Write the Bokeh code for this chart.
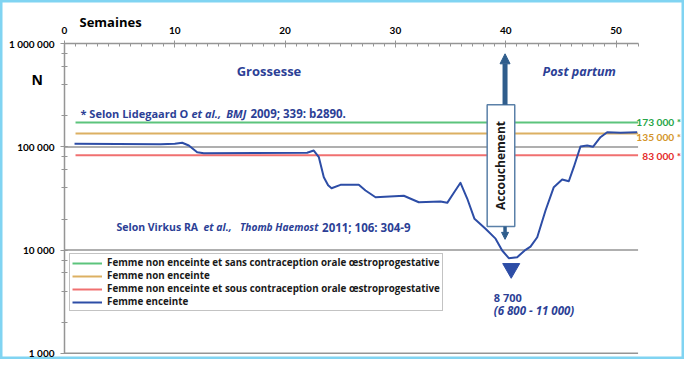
import math
from bokeh.plotting import figure
from bokeh.models import (Range1d, SingleIntervalTicker, LogTicker, Label, Legend, LegendItem,
                          Arrow, NormalHead)
from bokeh.embed import file_html
from bokeh.resources import INLINE

# ---------------- data ----------------
WEEKS = [0.91, 8.7, 10.0, 10.67, 11.27, 12.03, 12.63, 22.0, 22.6, 23.06, 23.51, 23.9, 24.21, 25.02,
         26.68, 27.29, 28.2, 30.76, 32.12, 34.09, 34.7, 35.3, 35.9, 36.51, 37.17, 38.17, 39.08,
         39.68, 40.28, 41.04, 41.8, 42.25, 42.86, 43.61, 44.36, 45.12, 45.72, 46.17, 46.78,
         47.39, 47.93, 48.59, 49.2, 50.41, 51.92]
PREGNANT = [107200, 106300, 107500, 109700, 103200, 88900, 86900, 87700, 92300, 79500, 50900,
            42500, 39800, 42900, 42900, 37800, 32500, 33600, 29100, 29600, 28700, 36000, 44900,
            31600, 20100, 16100, 12900, 9900, 8340, 8530, 10060, 10800, 13300, 24200, 40700,
            48300, 46500, 63600, 101000, 103300, 100600, 124300, 139000, 137100, 139000]

REF_NAMES = ["Femme non enceinte et sans contraception orale \u0153stroprogestative",
             "Femme non enceinte",
             "Femme non enceinte et sous contraception orale \u0153stroprogestative"]
REF_VALUES = [173000, 135000, 83000]
REF_LABELS = ["173 000 *", "135 000 *", "83 000 *"]
REF_START, REF_END = 1.0, 52.0
PREG_NAME = "Femme enceinte"

X_MIN, X_MAX = 0, 52
X_TICK_STEP = 10
Y_TICKS = [1000, 10000, 100000, 1000000]
Y_TICK_LABELS = ["1 000", "10 000", "100 000", "1 000 000"]

DELIVERY_WEEK = 40
NADIR_WEEK = 40.5
NADIR_TEXT = "8 700"
NADIR_RANGE = "(6 800 - 11 000)"

# ---------------- style ----------------
FONT = "Open Sans"
TICK_FONT = "Lato"
BLUE_TXT = "#2c3f96"
CURVE = "#2d4da6"
REF_COLORS = ["#5cc47c", "#dcb062", "#f07070"]
REF_TXT_COLORS = ["#26a548", "#d4952a", "#e52a2a"]
GRAY = "#959595"
ARROW = "#2f5d8c"

# the frame covers the whole canvas; axes are pinned inside it with fixed_location
p = figure(width=684, height=359, y_axis_type="log", x_axis_location="above",
           x_range=Range1d(-5.802, 56.21), y_range=Range1d(10 ** 2.9388, 10 ** 6.4199),
           output_backend="svg", toolbar_location=None,
           min_border_left=0, min_border_top=0, min_border_right=0, min_border_bottom=0)
p.outline_line_color = "#80d4f2"
p.outline_line_width = 4
p.background_fill_color = "white"
p.border_fill_color = "white"

# axes
xa = p.xaxis[0]
xa.fixed_location = Y_TICKS[-1]
xa.bounds = (X_MIN, X_MAX)
xa.ticker = SingleIntervalTicker(interval=X_TICK_STEP, num_minor_ticks=10)
xa.axis_line_color = GRAY
xa.axis_line_width = 1.5
xa.major_tick_line_color = GRAY
xa.minor_tick_line_color = GRAY
xa.major_tick_in = 4
xa.major_tick_out = 3
xa.minor_tick_in = 3
xa.minor_tick_out = 0
xa.major_label_text_font = TICK_FONT
xa.major_label_text_font_style = "bold"
xa.major_label_text_font_size = "10px"
xa.major_label_text_color = "black"
xa.major_label_standoff = 7

ya = p.yaxis[0]
ya.fixed_location = X_MIN
ya.bounds = (Y_TICKS[0], Y_TICKS[-1])
ya.ticker = LogTicker(desired_num_ticks=4)
ya.major_label_overrides = {t: l for t, l in zip(Y_TICKS, Y_TICK_LABELS)}
ya.axis_line_color = GRAY
ya.axis_line_width = 1.5
ya.major_tick_line_color = GRAY
ya.minor_tick_line_color = GRAY
ya.major_tick_in = 3
ya.major_tick_out = 4
ya.minor_tick_in = 3
ya.minor_tick_out = 3
ya.major_label_text_font = TICK_FONT
ya.major_label_text_font_style = "bold"
ya.major_label_text_font_size = "10px"
ya.major_label_text_color = "black"
ya.major_label_standoff = 6

p.xgrid.visible = False
p.ygrid.visible = False

# horizontal gray lines at the decade ticks (below the top axis)
for t in Y_TICKS[:-1]:
    p.line([X_MIN, X_MAX], [t, t], line_color=GRAY, line_width=1.5)

# reference lines
ref_renderers = []
for v, c in zip(REF_VALUES, REF_COLORS):
    r = p.line([REF_START, REF_END], [v, v], line_color=c, line_width=2)
    ref_renderers.append(r)

# pregnant curve
curve = p.line(WEEKS, PREGNANT, line_color=CURVE, line_width=2, line_join="round")

# delivery box + arrows
box_bottom, box_top = 16900, 256000
p.quad(left=[DELIVERY_WEEK - 1.68], right=[DELIVERY_WEEK + 0.82], bottom=[box_bottom], top=[box_top],
       fill_color="white", line_color="#5a80a8", line_width=1.5)
p.add_layout(Arrow(x_start=DELIVERY_WEEK - 0.06, y_start=box_top, x_end=DELIVERY_WEEK - 0.06, y_end=800000,
                   line_color=ARROW, line_width=5,
                   end=NormalHead(size=10, fill_color=ARROW, line_color=ARROW)))
p.add_layout(Arrow(x_start=DELIVERY_WEEK - 0.06, y_start=box_bottom, x_end=DELIVERY_WEEK - 0.06, y_end=12700,
                   line_color=ARROW, line_width=3.5,
                   end=NormalHead(size=7, fill_color=ARROW, line_color=ARROW)))
p.add_layout(Label(x=DELIVERY_WEEK - 0.43, y=66000, text="Accouchement", angle=math.pi / 2,
                   text_align="center", text_baseline="middle", text_font=FONT,
                   text_font_style="bold", text_font_size="12px", text_color="#1a1a1a"))

# nadir marker
p.scatter([NADIR_WEEK], [6630], marker="inverted_triangle", size=17, fill_color=CURVE, line_color=CURVE)


def txt(x, y, t, style="bold", size="11px", color=BLUE_TXT, align="left", font=FONT):
    p.add_layout(Label(x=x, y=y, text=t, text_align=align, text_baseline="middle", text_font=font,
                       text_font_style=style, text_font_size=size, text_color=color))


txt(38.92, 3490, NADIR_TEXT, size="11px")
txt(38.92, 2610, NADIR_RANGE, style="bold italic", size="11.5px")

# right labels
for v, lab, c in zip([173000, 126200, 81300], REF_LABELS, REF_TXT_COLORS):
    txt(55.9, v, lab, color=c, size="10.2px", align="right", font=TICK_FONT)

txt(18.54, 539000, "Grossesse", size="13px", align="center")
txt(43.34, 539000, "Post partum", style="bold italic", size="12.5px")

# Lidegaard reference
y1 = 213300
txt(1.45, y1, "* Selon Lidegaard O")
txt(11.51, y1, "et al.,", style="bold italic")
txt(14.66, y1, "BMJ", style="bold italic")
txt(16.86, y1, "2009; 339: b2890.", size="11.5px")

# Virkus reference
y2 = 16550
txt(4.71, y2, "Selon Virkus RA", size="10.5px")
txt(12.6, y2, "et al.,", style="bold italic", size="10.5px")
txt(15.9, y2, "Thomb Haemost", style="bold italic", size="10.2px")
txt(23.35, y2, "2011; 106: 304-9", size="11.5px")

# axis titles
txt(1.36, 1645000, "Semaines", size="13px", color="black")
txt(-2.99, 451000, "N", size="14px", color="black")

# legend
items = [LegendItem(label=n, renderers=[r]) for n, r in zip(REF_NAMES, ref_renderers)]
items.append(LegendItem(label=PREG_NAME, renderers=[curve]))
legend = Legend(items=items, location=(69, 48), orientation="vertical",
                border_line_color="#888888", border_line_width=1, background_fill_color="white",
                background_fill_alpha=1, label_text_font=FONT, label_text_font_style="bold",
                label_text_font_size="9.8px", label_text_color="#1a1a1a",
                label_text_line_height=0.9,
                glyph_width=30, glyph_height=10, label_height=10, spacing=-2, padding=2,
                margin=0, label_standoff=5)
p.add_layout(legend, "center")

open("out.html", "w").write(file_html(p, INLINE))
